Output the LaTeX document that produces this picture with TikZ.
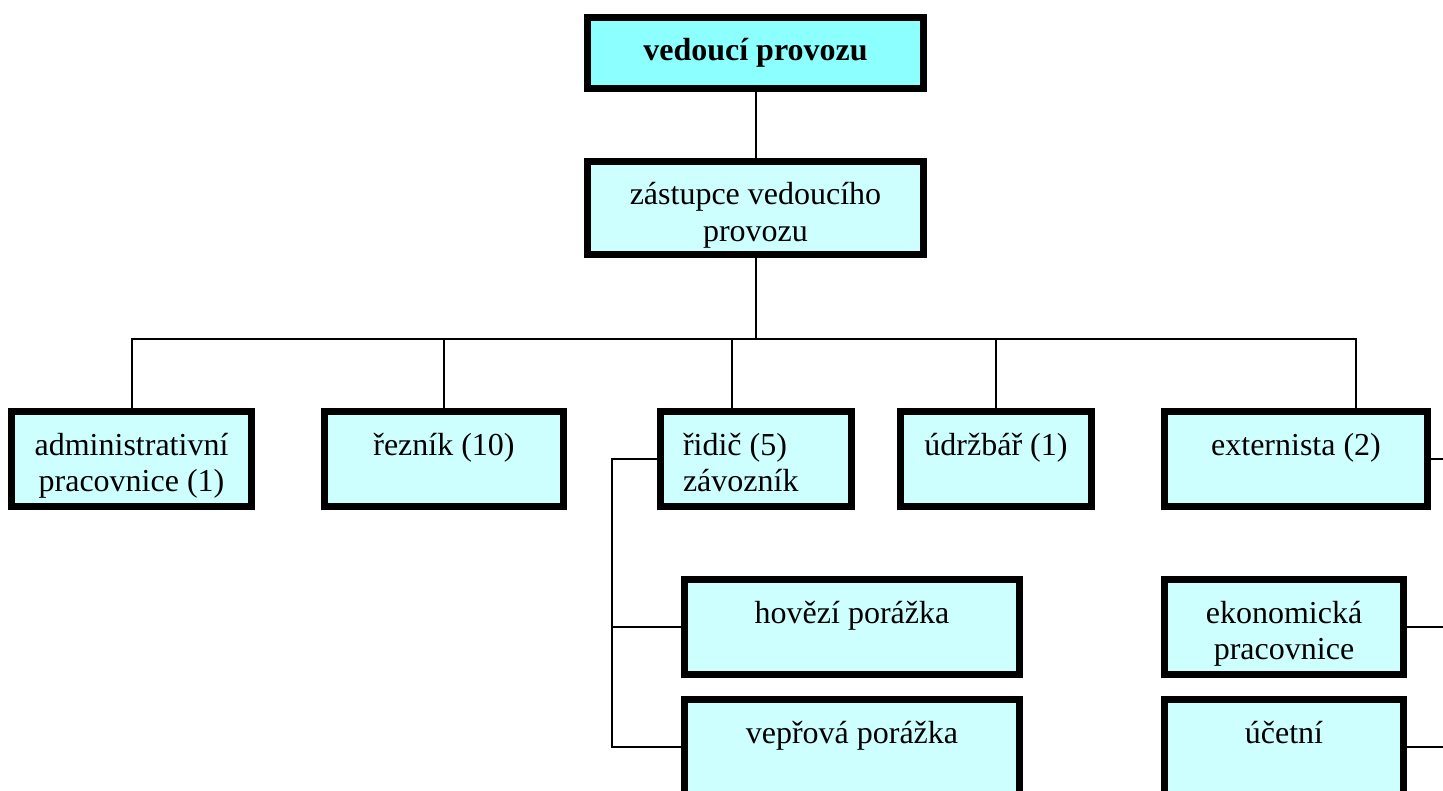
\documentclass[tikz,border=0pt]{standalone}
\usepackage{fontspec}
\setmainfont{Liberation Serif}
\definecolor{topfill}{RGB}{140,255,255}
\definecolor{boxfill}{RGB}{206,255,255}
\newcommand\bxc[3]{\parbox[c][#2pt][t]{#1pt}{\centering\rule{0pt}{43.5pt}#3}}
\newcommand\bxl[3]{\parbox[c][#2pt][t]{#1pt}{\raggedright\leftskip=22.5pt\rule{0pt}{43.5pt}#3}}
\tikzset{
  orgbox/.style={draw=black, line width=7pt, fill=boxfill, inner sep=0pt, outer sep=0pt, anchor=north west,
    font=\fontsize{32pt}{36.8pt}\selectfont},
  conn/.style={draw=black, line width=2pt}
}
\begin{document}
\begin{tikzpicture}[x=1pt,y=-1pt]
\useasboundingbox (0,0) rectangle (1443,791);
\path[clip] (0,0) rectangle (1443,791);
\fill[white] (0,0) rectangle (1443,791);
% boxes
\node[orgbox, fill=topfill] (top) at (587.5,17.5) {\bxc{336}{71}{\textbf{vedoucí provozu}}};
\node[orgbox] (dep) at (587.5,161.5) {\bxc{336}{93}{zástupce vedoucího\\provozu}};
\node[orgbox] (adm) at (11.5,411.5) {\bxc{240}{95}{administrativní\\pracovnice (1)}};
\node[orgbox] (rez) at (324.5,411.5) {\bxc{239}{95}{řezník (10)}};
\node[orgbox] (rid) at (660.5,411.5) {\bxl{191}{95}{řidič (5)\\závozník}};
\node[orgbox] (udr) at (900.5,411.5) {\bxc{191}{95}{údržbář (1)}};
\node[orgbox] (ext) at (1164.5,411.5) {\bxc{263}{95}{externista (2)}};
\node[orgbox] (hov) at (684.5,579.5) {\bxc{335}{95}{hovězí porážka}};
\node[orgbox] (vep) at (684.5,699.5) {\bxc{335}{95}{vepřová porážka}};
\node[orgbox] (eko) at (1164.5,579.5) {\bxc{239}{95}{ekonomická\\pracovnice}};
\node[orgbox] (uce) at (1164.5,699.5) {\bxc{239}{95}{účetní}};
% coordinates
\coordinate (bus) at (756,339);
\coordinate (brk) at (612,459);
\coordinate (edge) at (1443,459);
% connectors
\draw[conn] (top.south) -- (dep.north);
\draw[conn] (dep.south) -- (dep.south |- bus);
\draw[conn] (adm.north) |- (bus) -| ([xshift=60pt]ext.north);
\draw[conn] (rez.north) -- (rez.north |- bus);
\draw[conn] ([xshift=-24pt]rid.north) -- ([xshift=-24pt]rid.north |- bus);
\draw[conn] (udr.north) -- (udr.north |- bus);
\draw[conn] (rid.west) -- (rid.west -| brk) |- (vep.west);
\draw[conn] (hov.west -| brk) -- (hov.west);
\draw[conn] (ext.east) -- (ext.east -| edge);
\draw[conn] (eko.east) -- (eko.east -| edge);
\draw[conn] (uce.east) -- (uce.east -| edge);
\end{tikzpicture}
\end{document}
